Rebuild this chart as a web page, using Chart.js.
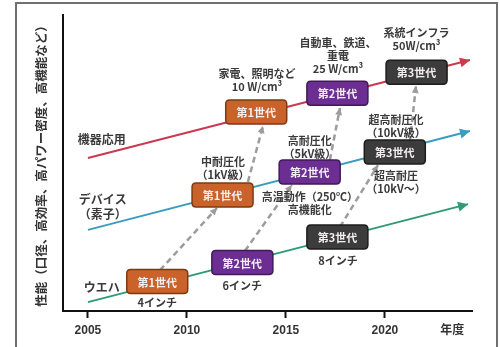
<!DOCTYPE html>
<html>
<head>
<meta charset="utf-8">
<script src="https://cdn.jsdelivr.net/npm/chart.js@4"></script>
<style>
    html, body { margin: 0; padding: 0; background: #fff; }
    #frame { position: absolute; left: 15px; top: 2px; width: 483px; height: 400px; border: 2px solid #707070; box-sizing: border-box; }
    #wrap { position: absolute; left: 0; top: 0; width: 500px; height: 347px; }
</style>
</head>
<body>
<div id="frame"></div>
<div id="wrap"><canvas id="roadmap" width="500" height="347"></canvas></div>
<script>
// axis
var xTicks = [2005, 2010, 2015, 2020];
var xTitle = '年度';
var xTitleAt = 2023.4;
var yTitle = '性能（口径、高効率、高パワー密度、高機能など）';

// three trend lines: 機器応用 / デバイス / ウエハ
var lineNames = [['機器応用'], ['デバイス', '（素子）'], ['ウエハ']];
var lineNameAt = [[2005.7, 57.8], [2005.75, 35.1], [2005.7, 8.1]];
var lineStart = [[2005, 51.7], [2005, 27.4], [2005, 3.0]];
var lineEnd = [[2024.3, 84.8], [2024.3, 60.8], [2024.2, 36.1]];
var lineColors = ['#c9394f', '#3a9cbf', '#2f9a76'];

// generation boxes on each line
var genNames = ['第1世代', '第2世代', '第3世代'];
var genYears = [[2013.5, 2017.6, 2021.6], [2011.8, 2016.2, 2020.5], [2008.5, 2012.8, 2017.6]];
var genPerf = [[67.2, 73.6, 80.7], [39.2, 47.0, 53.7], [10.0, 16.4, 25.0]];
var genColors = ['#c9632b', '#6c2e93', '#3c3c3c'];
var genEdges = ['#7d3a12', '#3f1a57', '#1c1c1c'];

// dashed step arrows (from -> to)
var stepFrom = [[2008.64, 13.8], [2012.93, 20.3], [2013.08, 43.6], [2017.22, 51.0], [2017.73, 28.4], [2021.26, 57.1]];
var stepTo = [[2011.52, 34.8], [2015.30, 42.6], [2013.84, 62.5], [2017.73, 68.6], [2019.65, 49.3], [2021.57, 76.0]];

// notes around boxes
var noteAt = [
    [2013.54, 77.9], [2017.63, 86.1], [2021.6, 91.9],
    [2011.82, 48.1], [2016.21, 55.4], [2016.21, 36.5], [2020.56, 62.3], [2020.56, 43.4],
    [2008.5, 2.6], [2012.8, 8.4], [2017.63, 16.9]
];
var noteText = [
    ['家電、照明など', '10 W/cm³'], ['自動車、鉄道、', '重電', '25 W/cm³'], ['系統インフラ', '50W/cm³'],
    ['中耐圧化', '（1kV級）'], ['高耐圧化', '（5kV級）'], ['高温動作（250℃）', '高機能化'], ['超高耐圧化', '（10kV級）'], ['超高耐圧', '（10kV～）'],
    ['4インチ'], ['6インチ'], ['8インチ']
];

var JP = '"Noto Sans CJK JP", sans-serif';

var datasets = [];
lineStart.forEach(function (p, i) {
    datasets.push({
        data: [{ x: p[0], y: p[1] }, { x: lineEnd[i][0], y: lineEnd[i][1] }],
        borderColor: lineColors[i], borderWidth: 2, pointRadius: 0, arrowSize: 10
    });
});
stepFrom.forEach(function (p, i) {
    datasets.push({
        data: [{ x: p[0], y: p[1] }, { x: stepTo[i][0], y: stepTo[i][1] }],
        borderColor: '#9c9c9c', borderWidth: 2.5, borderDash: [6, 4], pointRadius: 0, arrowSize: 7
    });
});

function arrowHead(ctx, x1, y1, x2, y2, color, len) {
    var a = Math.atan2(y2 - y1, x2 - x1);
    ctx.save();
    ctx.translate(x2, y2);
    ctx.rotate(a);
    ctx.fillStyle = color;
    ctx.beginPath();
    ctx.moveTo(0, 0);
    ctx.lineTo(-len, -len * 0.5);
    ctx.lineTo(-len, len * 0.5);
    ctx.closePath();
    ctx.fill();
    ctx.restore();
}

function roundBox(ctx, x, y, w, h, r) {
    ctx.beginPath();
    ctx.moveTo(x + r, y);
    ctx.lineTo(x + w - r, y);
    ctx.quadraticCurveTo(x + w, y, x + w, y + r);
    ctx.lineTo(x + w, y + h - r);
    ctx.quadraticCurveTo(x + w, y + h, x + w - r, y + h);
    ctx.lineTo(x + r, y + h);
    ctx.quadraticCurveTo(x, y + h, x, y + h - r);
    ctx.lineTo(x, y + r);
    ctx.quadraticCurveTo(x, y, x + r, y);
    ctx.closePath();
}

var roadmapPlugin = {
    id: 'roadmap',
    afterDatasetsDraw: function (chart) {
        var ctx = chart.ctx, xs = chart.scales.x, ys = chart.scales.y;

        // arrow heads
        chart.data.datasets.forEach(function (ds) {
            var a = ds.data[0], b = ds.data[1];
            arrowHead(ctx, xs.getPixelForValue(a.x), ys.getPixelForValue(a.y),
                xs.getPixelForValue(b.x), ys.getPixelForValue(b.y), ds.borderColor, ds.arrowSize);
        });

        // generation boxes
        ctx.save();
        genYears.forEach(function (row, i) {
            row.forEach(function (yr, g) {
                var cx = xs.getPixelForValue(yr), cy = ys.getPixelForValue(genPerf[i][g]);
                roundBox(ctx, cx - 30.5, cy - 12, 61, 24, 4);
                ctx.fillStyle = genColors[g];
                ctx.fill();
                ctx.lineWidth = 1.5;
                ctx.strokeStyle = genEdges[g];
                ctx.stroke();
                ctx.fillStyle = '#f4eef0';
                ctx.font = 'bold 11px ' + JP;
                ctx.textAlign = 'center';
                ctx.textBaseline = 'middle';
                ctx.fillText(genNames[g], cx, cy + 1);
            });
        });

        // notes and line names
        ctx.fillStyle = '#3a3a3a';
        ctx.textAlign = 'center';
        ctx.textBaseline = 'middle';
        ctx.font = 'bold 11px ' + JP;
        noteAt.forEach(function (p, i) {
            var lines = noteText[i];
            var cx = xs.getPixelForValue(p[0]), cy = ys.getPixelForValue(p[1]);
            lines.forEach(function (t, k) {
                ctx.fillText(t, cx, cy + (k - (lines.length - 1) / 2) * 13);
            });
        });
        ctx.font = 'bold 12px ' + JP;
        lineNameAt.forEach(function (p, i) {
            var lines = lineNames[i];
            var cx = xs.getPixelForValue(p[0]), cy = ys.getPixelForValue(p[1]);
            lines.forEach(function (t, k) {
                ctx.fillText(t, cx, cy + (k - (lines.length - 1) / 2) * 15);
            });
        });
        ctx.restore();
    }
};

new Chart(document.getElementById('roadmap'), {
    type: 'line',
    data: { datasets: datasets },
    options: {
        responsive: false,
        animation: false,
        layout: { padding: { top: 15, right: 28, left: 0, bottom: 0 } },
        plugins: { legend: { display: false }, tooltip: { enabled: false } },
        scales: {
            x: {
                type: 'linear',
                min: 2003.74,
                max: 2024.4,
                afterBuildTicks: function (s) {
                    s.ticks = xTicks.concat([xTitleAt]).map(function (v) { return { value: v }; });
                },
                afterFit: function (s) { s.height = 36; },
                ticks: {
                    autoSkip: false, maxRotation: 0, padding: 5, color: '#333',
                    font: { family: '"Liberation Sans", "Noto Sans CJK JP"', size: 12, weight: 'bold' },
                    callback: function (v) { return v === xTitleAt ? xTitle : String(v); }
                },
                grid: {
                    drawOnChartArea: false, tickLength: 7, tickWidth: 2,
                    tickColor: function (c) { return c.tick && c.tick.value === xTitleAt ? 'rgba(0,0,0,0)' : '#111'; }
                },
                border: { color: '#111', width: 2 }
            },
            y: {
                min: 0,
                max: 100,
                afterFit: function (s) { s.width = 63; },
                ticks: { display: false },
                grid: { display: false },
                border: { color: '#111', width: 2 },
                title: {
                    display: true, text: yTitle, color: '#333',
                    font: { family: JP, size: 12.5, weight: 'bold' },
                    padding: { top: 34, bottom: 0 }
                }
            }
        }
    },
    plugins: [roadmapPlugin]
});
</script>
</body>
</html>
